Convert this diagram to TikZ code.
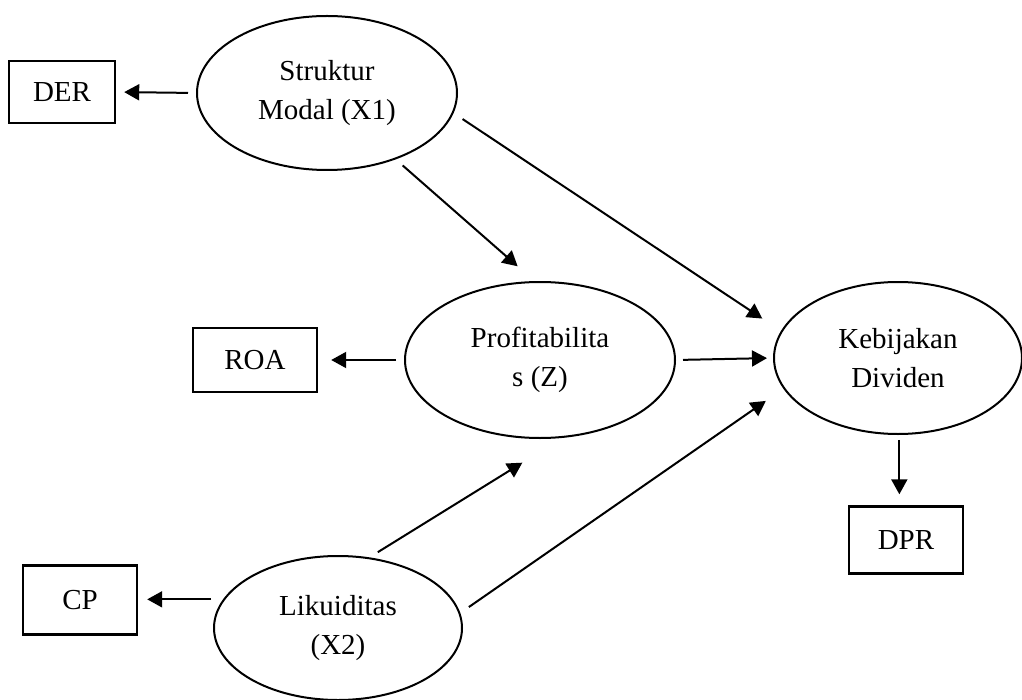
\documentclass[tikz,border=0pt]{standalone}
\usepackage{fontspec}
\setmainfont{Liberation Serif}
\usetikzlibrary{shapes.geometric,arrows.meta}

\begin{document}
\begin{tikzpicture}[x=0.5pt,y=-0.5pt,->,>={Triangle[length=7.5pt,width=8pt]},line width=1pt,font=\fontsize{14.5}{19.5}\selectfont]
	\tikzstyle{variabel}=[ellipse, draw, line width=1pt, inner sep=0pt]
	\tikzstyle{indikator}=[rectangle, draw, line width=1.2pt, inner sep=0pt]
	\tikzstyle{every edge}=[draw, line width=1pt]
	
	\useasboundingbox (0,0) rectangle (1022,700);
	
	\node[variabel, minimum width=130pt, minimum height=77pt] (x1) at (327,93)  {\parbox{3cm}{\centering Struktur\\Modal (X1)}};
	\node[variabel, minimum width=135pt, minimum height=78pt] (z)  at (540,360) {\parbox{3cm}{\centering Profitabilita\\s (Z)}};
	\node[variabel, minimum width=124pt, minimum height=76pt] (y)  at (898,358) {\parbox{3cm}{\centering Kebijakan\\Dividen}};
	\node[variabel, minimum width=124pt, minimum height=72pt] (x2) at (338,628) {\parbox{3cm}{\centering Likuiditas\\(X2)}};
	
	\node[indikator, minimum width=53pt, minimum height=31pt]   (der) at (62,92)   {DER};
	\node[indikator, minimum width=62pt, minimum height=32pt]   (roa) at (255,360) {ROA};
	\node[indikator, minimum width=57pt, minimum height=33.5pt] (dpr) at (906,540) {DPR};
	\node[indikator, minimum width=57pt, minimum height=34.5pt] (cp)  at (80,600)  {CP};
	
	\path (x1.west) edge[shorten <=4pt, shorten >=4pt] (der.east);
	\path (x1.-44) edge[shorten <=4.6pt, shorten >=11.2pt] (z.94);
	\path (x1.-9) edge[shorten <=5.4pt, shorten >=11.2pt] (y.167);
	\path (z.west) edge[shorten <=4pt, shorten >=6.5pt] (roa.east);
	\path (z.east) edge[shorten <=3.5pt, shorten >=3pt] (y.west);
	\path (x2.166) edge[shorten <=6pt, shorten >=4.5pt] (x2.166 -| cp.east);
	\path (x2.66) edge[shorten <=4.9pt, shorten >=23.5pt] (z.-74);
	\path (x2.7) edge[shorten <=5.2pt, shorten >=10.7pt] (y.195);
	\path (y.-89) edge[shorten <=2.5pt, shorten >=5.5pt] (y.-89 |- dpr.north);
	
\end{tikzpicture}
\end{document}
